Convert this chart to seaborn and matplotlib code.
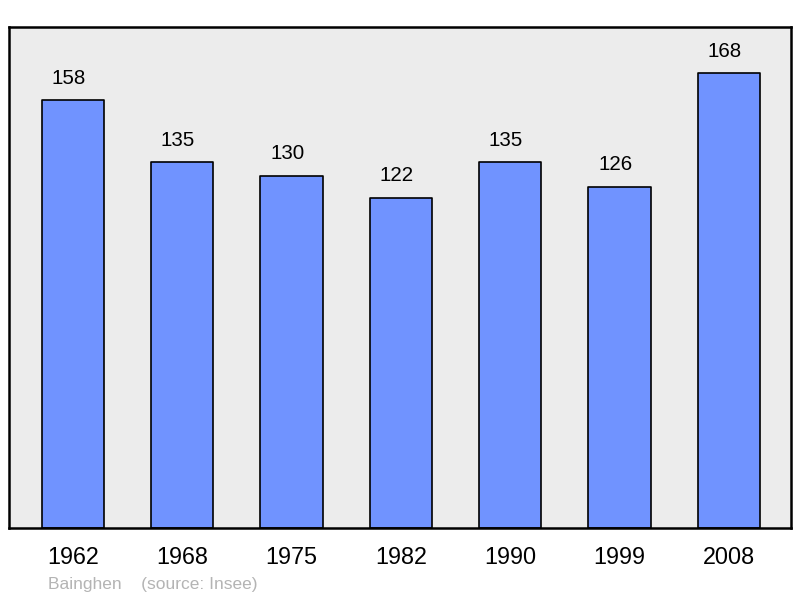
import pandas as pd
import matplotlib.pyplot as plt
import seaborn as sns

years = ["1962", "1968", "1975", "1982", "1990", "1999", "2008"]
population = [158, 135, 130, 122, 135, 126, 168]
commune = "Bainghen"
source = "(source: Insee)"

df = pd.DataFrame({"Année": years, "Population": population})

sns.set_style("white")
plt.rcParams["font.family"] = ["Liberation Sans", "DejaVu Sans"]
plt.rcParams["text.color"] = "black"
plt.rcParams["xtick.color"] = "black"

fig = plt.figure(figsize=(8, 5.98), dpi=100)
ax = fig.add_axes([9 / 800, 70 / 598, 782 / 800, 501 / 598])
ax.set_facecolor("#ececec")

sns.barplot(data=df, x="Année", y="Population", order=years, color="#7093ff",
            saturation=1, width=0.57, edgecolor="black", linewidth=1.2, ax=ax)
for p in ax.patches:
    p.set_joinstyle("round")

labels = ax.bar_label(ax.containers[0], padding=9, fontsize=14.8, color="black")
for t in labels:
    t.xyann = (-3, 9)

ax.set_xlim(-0.585, 6.57)
ax.set_ylim(0, 185)
ax.set_yticks([])
ax.set_xlabel("")
ax.set_ylabel("")
ax.tick_params(axis="x", length=0, labelsize=16.8, pad=13, labelcolor="black")
for s in ax.spines.values():
    s.set_visible(True)
    s.set_color("black")
    s.set_linewidth(1.8)
    s.set_joinstyle("round")

fig.text(48 / 800, 1 - 584 / 598, commune + "    " + source, color="#b4b4b4",
         fontsize=12.5, va="center", ha="left")

fig.savefig("out.png", dpi=100)
